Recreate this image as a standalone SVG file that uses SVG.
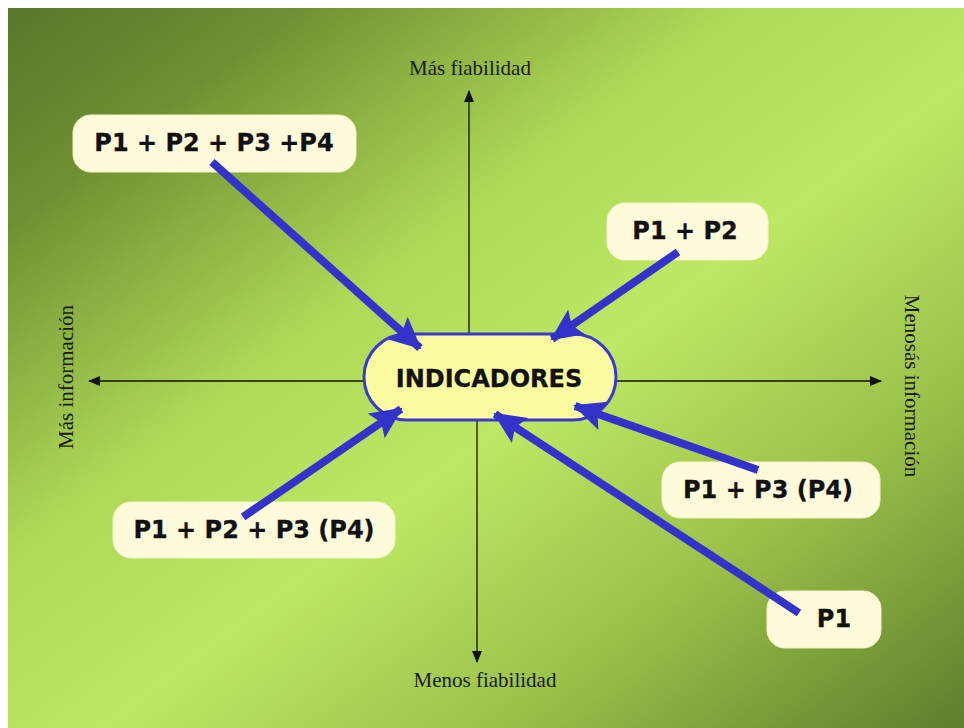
<svg xmlns="http://www.w3.org/2000/svg" width="964" height="728" viewBox="0 0 964 728">
  <defs>
    <linearGradient id="bg" x1="0" y1="0" x2="1" y2="1">
      <stop offset="0" stop-color="#5a762a"/>
      <stop offset="0.15" stop-color="#6f9032"/>
      <stop offset="0.38" stop-color="#aed957"/>
      <stop offset="0.55" stop-color="#bde864"/>
      <stop offset="0.76" stop-color="#9ac049"/>
      <stop offset="1" stop-color="#5f7d2c"/>
    </linearGradient>
    <marker id="bigArrow" markerUnits="userSpaceOnUse" markerWidth="32" markerHeight="32" viewBox="0 0 32 32" refX="30" refY="16" orient="auto">
      <path d="M0,1 L32,16 L0,31 L6,16 Z" fill="#3333cc"/>
    </marker>
    <marker id="axisArrow" markerUnits="userSpaceOnUse" markerWidth="12" markerHeight="12" viewBox="0 0 12 12" refX="11" refY="6" orient="auto">
      <path d="M0,1 L12,6 L0,11 Z" fill="#111"/>
    </marker>
  </defs>
  <style>
    .box { fill: #fdfbd9; stroke: #f4f2c8; stroke-width: 1; }
    .lbl { font-family: "DejaVu Sans", Verdana, sans-serif; font-weight: bold; font-size: 24px; fill: #111; stroke: #111; stroke-width: 0.3; text-anchor: middle; }
    .ax { font-family: "Liberation Serif", "Times New Roman", serif; font-size: 21px; fill: #1a1a1a; text-anchor: middle; }
    .axis { stroke: #111; stroke-width: 1.3; fill: none; marker-end: url(#axisArrow); }
    .conn { stroke: #3333cc; stroke-width: 8; fill: none; marker-end: url(#bigArrow); }
  </style>

  <rect x="0" y="0" width="964" height="728" fill="#ffffff"/>
  <rect x="8" y="8" width="956" height="720" fill="url(#bg)"/>

  <g id="axes">
    <line class="axis" x1="469" y1="335" x2="469" y2="91"/>
    <line class="axis" x1="477" y1="420" x2="477" y2="662"/>
    <line class="axis" x1="365" y1="381" x2="89" y2="381"/>
    <line class="axis" x1="615" y1="381" x2="881" y2="381"/>
  </g>

  <g id="axis-labels">
    <text class="ax" x="470" y="75">Más fiabilidad</text>
    <text class="ax" x="485" y="687">Menos fiabilidad</text>
    <text class="ax" transform="translate(73,377) rotate(-90)">Más información</text>
    <text class="ax" transform="translate(905,386) rotate(90)">Menosás información</text>
  </g>

  <g id="node-indicadores">
    <rect x="364" y="334" width="252" height="86" rx="43" ry="43" fill="#fafa9e" stroke="#3a3acc" stroke-width="3"/>
    <text class="lbl" x="489" y="387">INDICADORES</text>
  </g>

  <g id="node-p1p2p3p4">
    <rect class="box" x="73" y="115" width="283" height="57" rx="18"/>
    <text class="lbl" x="214" y="151">P1 + P2 + P3 +P4</text>
  </g>

  <g id="node-p1p2">
    <rect class="box" x="607" y="203" width="161" height="57" rx="18"/>
    <text class="lbl" x="685" y="239">P1 + P2</text>
  </g>

  <g id="node-p1p2p3-p4">
    <rect class="box" x="113" y="502" width="282" height="56" rx="18"/>
    <text class="lbl" x="254" y="538">P1 + P2 + P3 (P4)</text>
  </g>

  <g id="node-p1p3-p4">
    <rect class="box" x="662" y="462" width="218" height="56" rx="18"/>
    <text class="lbl" x="768" y="498">P1 + P3 (P4)</text>
  </g>

  <g id="node-p1">
    <rect class="box" x="767" y="591" width="114" height="57" rx="18"/>
    <text class="lbl" x="834" y="627">P1</text>
  </g>

  <g id="connectors">
    <line class="conn" x1="212" y1="162" x2="420" y2="348"/>
    <line class="conn" x1="678" y1="252" x2="552" y2="339"/>
    <line class="conn" x1="243" y1="517" x2="401" y2="409"/>
    <line class="conn" x1="758" y1="470" x2="575" y2="406"/>
    <line class="conn" x1="799" y1="613" x2="495" y2="414"/>
  </g>
</svg>
